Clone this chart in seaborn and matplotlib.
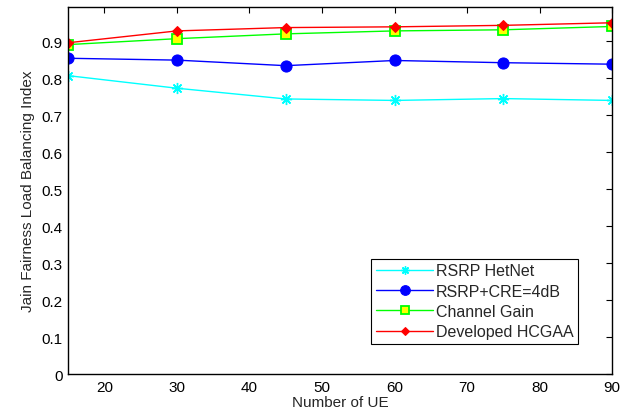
import matplotlib
matplotlib.use("Agg")
import matplotlib.pyplot as plt
import seaborn as sns
import pandas as pd

num_ue = [15, 30, 45, 60, 75, 90]
rsrp_hetnet = [0.807, 0.773, 0.744, 0.740, 0.745, 0.740]
rsrp_cre = [0.854, 0.849, 0.834, 0.848, 0.842, 0.838]
channel_gain = [0.891, 0.907, 0.920, 0.928, 0.931, 0.940]
developed_hcgaa = [0.896, 0.928, 0.937, 0.939, 0.943, 0.950]
series_names = ["RSRP HetNet", "RSRP+CRE=4dB", "Channel Gain", "Developed HCGAA"]
x_ticks = [20, 30, 40, 50, 60, 70, 80, 90]
y_ticks = [0, 0.1, 0.2, 0.3, 0.4, 0.5, 0.6, 0.7, 0.8, 0.9]

sns.set_style("white")
plt.rcParams['font.family'] = ['Liberation Sans', 'DejaVu Sans']

frames = []
for name, vals in zip(series_names, [rsrp_hetnet, rsrp_cre, channel_gain, developed_hcgaa]):
    frames.append(pd.DataFrame({"x": num_ue, "y": vals, "series": name}))
df = pd.concat(frames, ignore_index=True)

styles = {
    "RSRP HetNet": dict(color="#00ffff", marker=(8, 2, 0), markersize=8, markerfacecolor="#00ffff", markeredgecolor="#00ffff", markeredgewidth=1.0, lw=1.0),
    "RSRP+CRE=4dB": dict(color="#0000ff", marker="o", markersize=8, markerfacecolor="#0000ff", markeredgecolor="#0000ff", lw=1.0),
    "Channel Gain": dict(color="#00ff00", marker="s", markersize=7, markerfacecolor="#ffff00", markeredgecolor="#00ff00", markeredgewidth=1.3, lw=1.0),
    "Developed HCGAA": dict(color="#ff0000", marker="D", markersize=5, markerfacecolor="#ff0000", markeredgecolor="#ff0000", lw=1.0),
}
legend_ms = {"RSRP HetNet": 6, "RSRP+CRE=4dB": 7, "Channel Gain": 6, "Developed HCGAA": 4}

fig = plt.figure(figsize=(6.31, 4.14), dpi=100)
ax = fig.add_axes([0.108, 0.094, 0.862, 0.887])
for name in series_names:
    sub = df[df["series"] == name]
    st = styles[name]
    sns.lineplot(data=sub, x="x", y="y", ax=ax, label=name, estimator=None, **st)

ax.set_xlim(15, 90)
ax.set_ylim(0, 0.993)
ax.set_xticks(x_ticks)
ax.set_yticks(y_ticks)
ax.set_yticklabels(["0"] + [f"{v:.1f}" for v in y_ticks[1:]])
ax.tick_params(direction="in", length=4, width=0.8, top=True, right=True, labelsize=11, colors="black", pad=4)
for sp in ax.spines.values():
    sp.set_color("black")
    sp.set_linewidth(1.0)
ax.set_xlabel("Number of UE", fontsize=11, labelpad=1)
ax.set_ylabel("Jain Fairness Load Balancing Index", fontsize=11, labelpad=5)

leg = ax.legend(loc="lower right", bbox_to_anchor=(0.9375, 0.082), fontsize=11.5, frameon=True,
                fancybox=False, edgecolor="black", framealpha=1, handlelength=3.6,
                borderpad=0.3, labelspacing=0.33, handletextpad=0.15, borderaxespad=0)
leg.get_frame().set_linewidth(0.8)
for h, name in zip(leg.legend_handles, series_names):
    h.set_markersize(legend_ms[name])

fig.savefig("out.png", dpi=100)
